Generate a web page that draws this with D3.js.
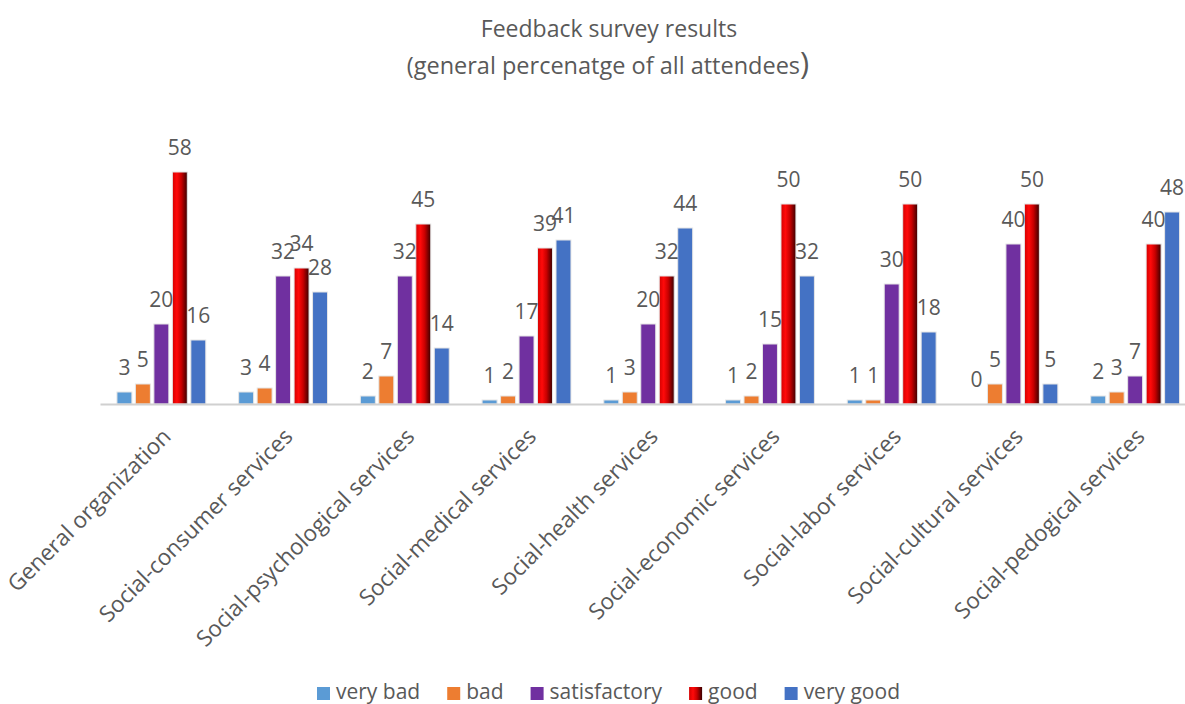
<!DOCTYPE html>
<html>
<head>
<meta charset="utf-8">
<script src="https://cdn.jsdelivr.net/npm/d3@7"></script>
<style>
  body { margin: 0; background: #fff; }
  text { font-family: "Open Sans", sans-serif; fill: #595959; }
</style>
</head>
<body>
<svg id="vis"></svg>
<script>
const WIDTH = 1185;
const HEIGHT = 704;

const categories = ["General organization", "Social-consumer services", "Social-psychological services",
    "Social-medical services", "Social-health services", "Social-economic services",
    "Social-labor services", "Social-cultural services", "Social-pedogical services"];
const seriesNames = ["very bad", "bad", "satisfactory", "good", "very good"];
const veryBad = [3, 3, 2, 1, 1, 1, 1, 0, 2];
const bad = [5, 4, 7, 2, 3, 2, 1, 5, 3];
const satisfactory = [20, 32, 32, 17, 20, 15, 30, 40, 7];
const good = [58, 34, 45, 39, 32, 50, 50, 50, 40];
const veryGood = [16, 28, 14, 41, 44, 32, 18, 5, 48];
const seriesValues = [veryBad, bad, satisfactory, good, veryGood];

const COLORS = ["#5b9bd5", "#ed7d31", "#7030a0", "url(#redGrad)", "#4472c4"];

const svg = d3.select("#vis")
    .attr("width", WIDTH)
    .attr("height", HEIGHT);

// gradient for the "good" bars (shiny red)
const grad = svg.append("defs").append("linearGradient")
    .attr("id", "redGrad")
    .attr("x1", "0%").attr("x2", "100%").attr("y1", "0%").attr("y2", "0%");
grad.append("stop").attr("offset", "0%").attr("stop-color", "#d40000");
grad.append("stop").attr("offset", "30%").attr("stop-color", "#ff0a0a");
grad.append("stop").attr("offset", "60%").attr("stop-color", "#c80000");
grad.append("stop").attr("offset", "100%").attr("stop-color", "#3a0000");

const margin = {left: 100.5, right: -11, baseline: 404};

const x0 = d3.scaleBand()
    .domain(categories)
    .range([margin.left, WIDTH - margin.right])
    .paddingInner(0.27)
    .paddingOuter(0.135);

const x1 = d3.scaleBand()
    .domain(seriesNames)
    .range([0, x0.bandwidth()])
    .paddingInner(0.19);

const y = d3.scaleLinear()
    .domain([0, 60])
    .range([margin.baseline, margin.baseline - 240]);

// title
const title = svg.append("text")
    .attr("text-anchor", "middle")
    .style("font-size", "23px");
title.append("tspan").attr("x", 609).attr("y", 37).text("Feedback survey results");
const line2 = title.append("tspan").attr("x", 608).attr("y", 74).style("font-size", "23.5px");
line2.append("tspan").text("(general percenatge of all attendees");
line2.append("tspan").style("font-size", "31px").text(")");

// bars
const groups = svg.selectAll(".group")
    .data(categories)
    .join("g")
    .attr("class", "group")
    .attr("transform", d => "translate(" + x0(d) + ",0)");

groups.selectAll("rect")
    .data((c, i) => seriesNames.map((s, j) => ({series: s, idx: j, value: seriesValues[j][i]})))
    .join("rect")
    .attr("x", d => x1(d.series))
    .attr("width", x1.bandwidth())
    .attr("y", d => y(d.value))
    .attr("height", d => y(0) - y(d.value))
    .style("fill", d => COLORS[d.idx])
    .style("stroke", "#e6e6e6")
    .style("stroke-width", 1);

groups.selectAll(".valueLabel")
    .data((c, i) => seriesNames.map((s, j) => ({series: s, idx: j, value: seriesValues[j][i]})))
    .join("text")
    .attr("class", "valueLabel")
    .attr("text-anchor", "middle")
    .attr("x", d => x1(d.series) + x1.bandwidth() / 2)
    .attr("y", d => y(d.value) - 17)
    .style("font-size", "21px")
    .text(d => d.value);

// x axis line
svg.append("line")
    .attr("x1", margin.left)
    .attr("x2", WIDTH)
    .attr("y1", margin.baseline + 0.5)
    .attr("y2", margin.baseline + 0.5)
    .style("stroke", "#d0d0d0")
    .style("stroke-width", 2);

// category labels, rotated
svg.selectAll(".catLabel")
    .data(categories)
    .join("text")
    .attr("class", "catLabel")
    .attr("text-anchor", "end")
    .attr("transform", d => "translate(" + (x0(d) + x0.bandwidth() / 2 + 11) + ",438) rotate(-45)")
    .style("font-size", "22.5px")
    .text(d => d);

// legend
const legend = svg.append("g").attr("transform", "translate(317,0)");
let lx = 0;
seriesNames.forEach((name, i) => {
    legend.append("rect")
        .attr("x", lx)
        .attr("y", 687)
        .attr("width", 13)
        .attr("height", 13)
        .style("fill", COLORS[i]);
    const t = legend.append("text")
        .attr("x", lx + 19)
        .attr("y", 699)
        .style("font-size", "21px")
        .text(name);
    lx += 19 + t.node().getComputedTextLength() + 27;
});
</script>
</body>
</html>
